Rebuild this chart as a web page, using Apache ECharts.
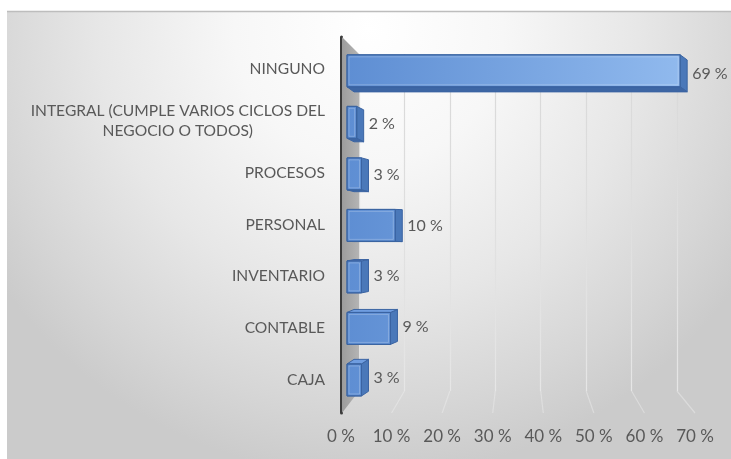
<!DOCTYPE html>
<html>
<head>
<meta charset="utf-8">
<script src="https://cdn.jsdelivr.net/npm/echarts@6/dist/echarts.min.js"></script>
<style>
  html, body { margin: 0; padding: 0; background: #ffffff; }
  #chart { width: 731px; height: 459px; }
</style>
</head>
<body>
<div id="chart"></div>
<script>
// Categories listed top to bottom, with the share (%) of each
const categories = [
  'NINGUNO',
  'INTEGRAL (CUMPLE VARIOS CICLOS DEL\nNEGOCIO O TODOS)',
  'PROCESOS',
  'PERSONAL',
  'INVENTARIO',
  'CONTABLE',
  'CAJA'
];
const values = [69, 2, 3, 10, 3, 9, 3];

// Value axis range and step
const axisMin = 0;
const axisMax = 70;
const axisStep = 10;

const FONT = 'Lato, "Open Sans", sans-serif';
const TEXT_COLOR = '#595959';

// Grid layout: front plane (axis line + tick labels), category labels,
// bar plane, and back wall (gridlines) drawn slightly smaller for depth.
const FRONT = { left: 341, right: 36, top: 37, bottom: 46 };
const LABELS = { left: 341, right: 36, top: 43, bottom: 53 };
const BARS = { left: 347, right: 46, top: 48, bottom: 56 };
const BACK = { left: 359, right: 54, top: 54, bottom: 68 };

const DEPTH_X = 7;        // horizontal offset of a bar's back face
const TILT = 0.032;       // vertical offset of the back face per px from eye level
const FACE_RATIO = 0.63;  // bar front-face height relative to the category band

const chart = echarts.init(document.getElementById('chart'), null, { renderer: 'canvas' });

const frontFill = {
  type: 'linear', x: 347, y: 0, x2: 685, y2: 0, global: true,
  colorStops: [{ offset: 0, color: '#5e8ed3' }, { offset: 1, color: '#91baee' }]
};

function renderBar(params, api) {
  const idx = api.value(0);
  const v = api.value(1);
  const p0 = api.coord([0, idx]);
  const p1 = api.coord([v, idx]);
  const band = api.size([0, 1])[1];
  const cs = params.coordSys;
  const eyeY = cs.y + cs.height * 0.52;
  const h = band * FACE_RATIO;
  const cy = p0[1];
  const dy = (eyeY - cy) * TILT;
  const dx = DEPTH_X;
  const top = cy - h / 2 - dy / 2;
  const bot = top + h;
  const x0 = p0[0];
  const x1 = p1[0];
  const stroke = '#3b64a2';
  const children = [];
  // right side face
  children.push({
    type: 'polygon',
    shape: { points: [[x1, top], [x1 + dx, top + dy], [x1 + dx, bot + dy], [x1, bot]] },
    style: { fill: '#4a78b9', stroke: stroke, lineWidth: 1 }
  });
  // bottom or top face, depending on which side of eye level the bar sits
  if (dy > 0) {
    children.push({
      type: 'polygon',
      shape: { points: [[x0, bot], [x1, bot], [x1 + dx, bot + dy], [x0 + dx, bot + dy]] },
      style: { fill: '#3d66a4', stroke: stroke, lineWidth: 1 }
    });
  } else {
    children.push({
      type: 'polygon',
      shape: { points: [[x0, top], [x1, top], [x1 + dx, top + dy], [x0 + dx, top + dy]] },
      style: { fill: '#6f9de0', stroke: stroke, lineWidth: 1 }
    });
  }
  // front face
  children.push({
    type: 'rect',
    shape: { x: x0, y: top, width: x1 - x0, height: h },
    style: { fill: frontFill, stroke: stroke, lineWidth: 1 }
  });
  // soft inner bevel highlight
  children.push({
    type: 'rect',
    shape: { x: x0 + 2, y: top + 2, width: Math.max(0, x1 - x0 - 4), height: h - 4 },
    style: { fill: 'none', stroke: 'rgba(255,255,255,0.22)', lineWidth: 1 }
  });
  // value label
  children.push({
    type: 'text',
    style: {
      text: v + ' %',
      x: x1 + dx + 5,
      y: cy,
      fill: TEXT_COLOR,
      font: '16px ' + FONT,
      align: 'left',
      verticalAlign: 'middle'
    }
  });
  return { type: 'group', children: children };
}

const barData = categories.map((c, i) => [c, values[i]]);

const option = {
  backgroundColor: '#ffffff',
  animation: false,
  grid: [
    Object.assign({ containLabel: false }, FRONT),
    Object.assign({ containLabel: false }, LABELS),
    Object.assign({ containLabel: false }, BARS),
    Object.assign({ containLabel: false }, BACK)
  ],
  xAxis: [
    {
      gridIndex: 0, type: 'value', min: axisMin, max: axisMax, interval: axisStep,
      axisLine: { show: false }, axisTick: { show: false }, splitLine: { show: false },
      axisLabel: {
        formatter: '{value} %', color: TEXT_COLOR, fontSize: 17, fontFamily: FONT, margin: 15
      }
    },
    {
      gridIndex: 1, type: 'value', min: axisMin, max: axisMax, show: false
    },
    {
      gridIndex: 2, type: 'value', min: axisMin, max: axisMax, show: false
    },
    {
      gridIndex: 3, type: 'value', min: axisMin, max: axisMax, interval: axisStep,
      axisLine: { show: false }, axisTick: { show: false }, axisLabel: { show: false },
      splitLine: {
        show: true,
        lineStyle: {
          width: 1.2,
          color: {
            type: 'linear', x: 0, y: 0, x2: 0, y2: 1,
            colorStops: [{ offset: 0, color: '#d8d8d8' }, { offset: 1, color: '#e6e6e6' }]
          }
        }
      }
    }
  ],
  yAxis: [
    {
      gridIndex: 0, type: 'category', data: categories, inverse: true,
      axisLine: { show: true, lineStyle: { color: '#3c3c3c', width: 3 } },
      axisTick: { show: false }, axisLabel: { show: false }, splitLine: { show: false }
    },
    {
      gridIndex: 1, type: 'category', data: categories, inverse: true,
      axisLine: { show: false }, axisTick: { show: false }, splitLine: { show: false },
      axisLabel: {
        margin: 16,
        formatter: function (t) { return '{c|' + t + '}'; },
        rich: {
          c: { align: 'center', color: TEXT_COLOR, fontSize: 15.6, fontFamily: FONT, lineHeight: 20 }
        }
      }
    },
    {
      gridIndex: 2, type: 'category', data: categories, inverse: true, show: false
    },
    {
      gridIndex: 3, type: 'category', data: categories, inverse: true, show: false
    }
  ],
  graphic: {
    elements: [
      {
        id: 'panel', type: 'rect', z: -10, silent: true,
        shape: { x: 7, y: 11, width: 724, height: 448 },
        style: {
          fill: {
            type: 'radial', x: 0.5, y: 0.04, r: 1.0,
            colorStops: [
              { offset: 0, color: '#ffffff' },
              { offset: 0.3, color: '#f7f7f7' },
              { offset: 0.6, color: '#e7e7e7' },
              { offset: 0.85, color: '#d6d6d6' },
              { offset: 1, color: '#cbcbcb' }
            ]
          }
        }
      },
      {
        id: 'panelTop', type: 'line', z: -9, silent: true,
        shape: { x1: 7, y1: 11.5, x2: 731, y2: 11.5 },
        style: { stroke: '#bdbdbd', lineWidth: 1.5 }
      }
    ]
  },
  series: [
    {
      type: 'custom',
      xAxisIndex: 2,
      yAxisIndex: 2,
      z: 5,
      encode: { y: 0, x: 1 },
      data: barData,
      renderItem: renderBar
    }
  ]
};

chart.setOption(option);

// Side wall and floor lines joining the back-wall gridlines to the front ticks
const H = 459;
const frontBottom = H - FRONT.bottom;
const backBottom = H - BACK.bottom;
const frontX0 = chart.convertToPixel({ xAxisIndex: 0 }, axisMin);
const backX0 = chart.convertToPixel({ xAxisIndex: 3 }, axisMin);
const extra = [
  {
    id: 'wall', type: 'polygon', z: 1, silent: true,
    shape: {
      points: [
        [frontX0 + 1, FRONT.top], [backX0, BACK.top],
        [backX0, backBottom], [frontX0 + 1, frontBottom]
      ]
    },
    style: {
      fill: {
        type: 'linear', x: 0, y: 0, x2: 1, y2: 0,
        colorStops: [{ offset: 0, color: '#9c9c9c' }, { offset: 1, color: '#b4b4b4' }]
      }
    }
  }
];
for (let v = axisMin + axisStep; v <= axisMax; v += axisStep) {
  extra.push({
    id: 'floor' + v, type: 'line', z: 0, silent: true,
    shape: {
      x1: chart.convertToPixel({ xAxisIndex: 3 }, v), y1: backBottom,
      x2: chart.convertToPixel({ xAxisIndex: 0 }, v), y2: frontBottom
    },
    style: { stroke: 'rgba(240,240,240,0.45)', lineWidth: 1.2 }
  });
}
chart.setOption({ graphic: { elements: extra } });
</script>
</body>
</html>
